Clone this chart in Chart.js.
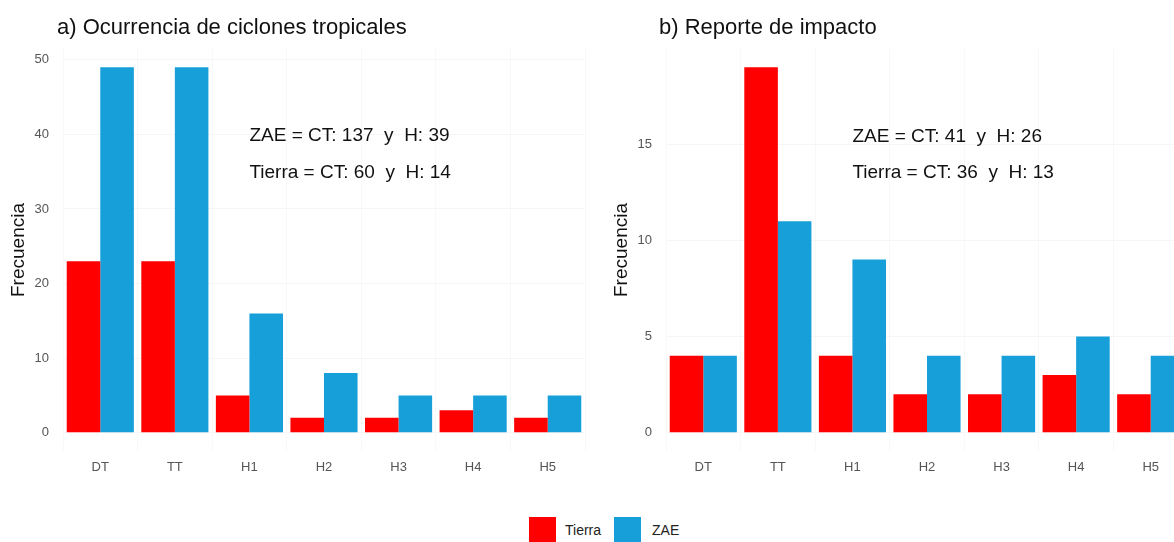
<!DOCTYPE html>
<html>
<head>
<meta charset="utf-8">
<script src="https://cdn.jsdelivr.net/npm/chart.js@4"></script>
<style>
  html, body { margin: 0; padding: 0; background: #fff; width: 1174px; height: 542px; overflow: hidden; }
  .panel { position: absolute; top: 0; width: 600px; height: 500px; }
  #legend { position: absolute; top: 517px; left: 529px; font-family: Arial, "Liberation Sans", sans-serif; font-size: 14px; color: #222; white-space: nowrap; }
  #legend span { display: inline-block; vertical-align: middle; }
  .key { width: 27px; height: 25px; }
</style>
</head>
<body>
<div class="panel" style="left:0px"><canvas id="chartA"></canvas></div>
<div class="panel" style="left:603px"><canvas id="chartB"></canvas></div>
<div id="legend"><span class="key" style="background:#fe0000"></span><span style="margin-left:9px;margin-right:13px">Tierra</span><span class="key" style="background:#169fd8"></span><span style="margin-left:11px">ZAE</span></div>
<script>
// categories and series
const categories = ["DT", "TT", "H1", "H2", "H3", "H4", "H5"];

const tierraA = [23, 23, 5, 2, 2, 3, 2];
const zaeA    = [49, 49, 16, 8, 5, 5, 5];
const ticksA  = [0, 10, 20, 30, 40, 50];

const tierraB = [4, 19, 4, 2, 2, 3, 2];
const zaeB    = [4, 11, 9, 4, 4, 5, 4];
const ticksB  = [0, 5, 10, 15];

const titleA = "a) Ocurrencia de ciclones tropicales";
const titleB = "b) Reporte de impacto";
const notesA = [["ZAE = CT: 137  y  H: 39", 39.8], ["Tierra = CT: 60  y  H: 14", 34.8]];
const notesB = [["ZAE = CT: 41  y  H: 26", 15.4], ["Tierra = CT: 36  y  H: 13", 13.5]];

const RED = "#fe0000", BLUE = "#169fd8";
const FONT = "Arial, 'Liberation Sans', sans-serif";

// draws panel title and the text notes (placed at H1, at given y values)
const textPlugin = {
  id: "panelText",
  afterDraw(chart, args, opts) {
    const ctx = chart.ctx;
    ctx.save();
    ctx.fillStyle = "#111";
    ctx.textBaseline = "middle";
    ctx.textAlign = "left";
    ctx.font = "22px " + FONT;
    ctx.fillText(opts.title, opts.titleX, 28);
    ctx.font = "19px " + FONT;
    const x = chart.scales.x.getPixelForValue(2);
    opts.notes.forEach(n => {
      ctx.fillText(n[0], x, chart.scales.y.getPixelForValue(n[1]));
    });
    ctx.restore();
  }
};

function makeChart(id, tierra, zae, yTicks, title, titleX, notes) {
  const top = Math.max(...zae, ...tierra);
  const pad = top * 0.05; // ggplot style expansion
  return new Chart(document.getElementById(id), {
    type: "bar",
    data: {
      labels: categories,
      datasets: [
        { label: "Tierra", data: tierra, backgroundColor: RED, borderWidth: 0,
          categoryPercentage: 0.9, barPercentage: 1.0 },
        { label: "ZAE", data: zae, backgroundColor: BLUE, borderWidth: 0,
          categoryPercentage: 0.9, barPercentage: 1.0 }
      ]
    },
    options: {
      responsive: true,
      maintainAspectRatio: false,
      animation: false,
      layout: { padding: { top: 49, right: 15, bottom: 19, left: 0 } },
      plugins: {
        legend: { display: false },
        tooltip: { enabled: false },
        panelText: { title: title, titleX: titleX, notes: notes }
      },
      scales: {
        x: {
          grid: { display: true, color: "#f8f8f8", drawTicks: false },
          border: { display: false },
          ticks: { color: "#555", font: { family: FONT, size: 13 }, padding: 9 },
          afterFit: s => { s.height = 30; }
        },
        y: {
          min: -pad,
          max: top + pad,
          grid: { color: "#f6f6f6", drawTicks: false },
          border: { display: false },
          ticks: { color: "#555", font: { family: FONT, size: 13 }, padding: 14 },
          afterBuildTicks: s => { s.ticks = yTicks.map(v => ({ value: v })); },
          afterFit: s => { s.width = 63; },
          title: { display: true, text: "Frecuencia", color: "#111",
                   font: { family: FONT, size: 19 }, padding: { top: 7, bottom: 0 } }
        }
      }
    },
    plugins: [textPlugin]
  });
}

makeChart("chartA", tierraA, zaeA, ticksA, titleA, 57, notesA);
makeChart("chartB", tierraB, zaeB, ticksB, titleB, 56, notesB);
</script>
</body>
</html>
